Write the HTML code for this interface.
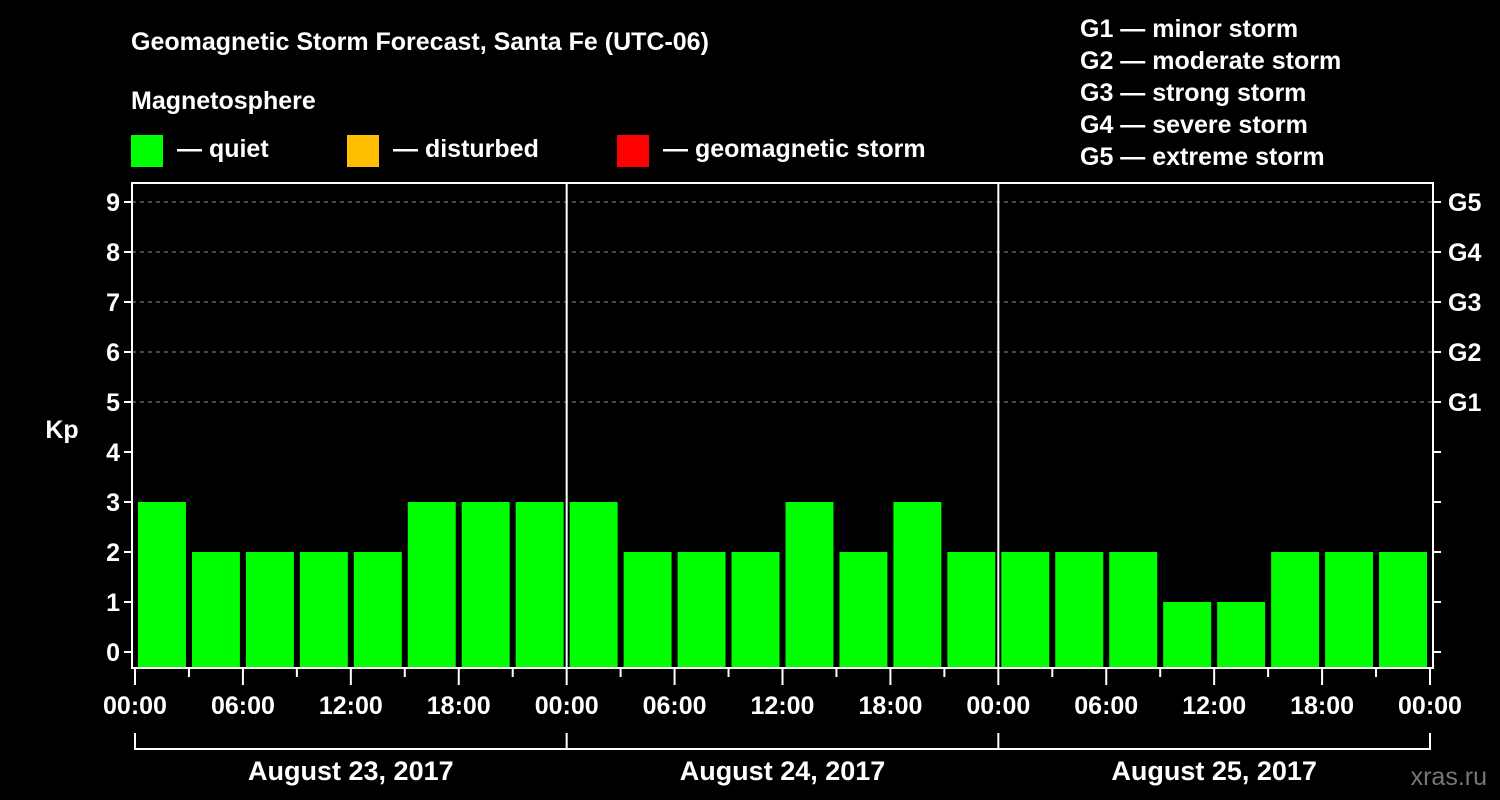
<!DOCTYPE html>
<html><head><meta charset="utf-8"><style>
html,body{margin:0;padding:0;background:#000;}
svg{display:block;font-family:"Liberation Sans",Arial,sans-serif;font-weight:bold;}
</style></head><body>
<svg width="1500" height="800" viewBox="0 0 1500 800">
<rect width="1500" height="800" fill="#000"/>
<text x="131" y="50" fill="#fff" font-size="25">Geomagnetic Storm Forecast, Santa Fe (UTC-06)</text>
<text x="131" y="109" fill="#fff" font-size="25">Magnetosphere</text>
<g><rect x="131" y="135" width="32" height="32" fill="#00ff00"/><text x="177" y="157" fill="#fff" font-size="25">— quiet</text></g>
<g><rect x="347" y="135" width="32" height="32" fill="#ffbf00"/><text x="393" y="157" fill="#fff" font-size="25">— disturbed</text></g>
<g><rect x="617" y="135" width="32" height="32" fill="#ff0000"/><text x="663" y="157" fill="#fff" font-size="25">— geomagnetic storm</text></g>
<g fill="#fff" font-size="25">
<text x="1080" y="37">G1 — minor storm</text>
<text x="1080" y="69">G2 — moderate storm</text>
<text x="1080" y="101">G3 — strong storm</text>
<text x="1080" y="133">G4 — severe storm</text>
<text x="1080" y="165">G5 — extreme storm</text>
</g>
<text x="62" y="438" fill="#fff" font-size="25" text-anchor="middle">Kp</text>
<text x="1487" y="785" fill="#777" font-size="25" text-anchor="end" font-weight="normal">xras.ru</text>
<g id="chart"></g>
</svg>
<script>
const kpValues = [3,2,2,2,2,3,3,3, 3,2,2,2,3,2,3,2, 2,2,2,1,1,2,2,2];
const dayLabels = ["August 23, 2017","August 24, 2017","August 25, 2017"];
const hourLabels = ["00:00","06:00","12:00","18:00"];
const gLabels = ["G1","G2","G3","G4","G5"];
const yTicks = [0,1,2,3,4,5,6,7,8,9];

const NS="http://www.w3.org/2000/svg";
const g=document.getElementById('chart');
const X0=135, X1=1430, HOURS=72, PLOT_L=132, PLOT_R=1433, PLOT_T=183, PLOT_B=668;
function x(h){return X0+h*(X1-X0)/HOURS;}
function y(v){return 652-v*50;}
function mk(tag,attrs){const e=document.createElementNS(NS,tag);for(const k in attrs)e.setAttribute(k,attrs[k]);g.appendChild(e);return e;}
function colorFor(v){return v>=5?'#ff0000':(v>=4?'#ffbf00':'#00ff00');}

// gridlines for 5..9
for(let v=5;v<=9;v++){
  const l=mk('line',{x1:PLOT_L,x2:PLOT_R,y1:y(v),y2:y(v),stroke:'#888','stroke-dasharray':'4,4','stroke-width':1});
  
  
}
// bars
kpValues.forEach((v,i)=>{
  const r=mk('rect',{x:x(i*3)+3,width:x(3)-x(0)-6,y:y(v),height:PLOT_B-y(v),fill:colorFor(v)});
  
  
});
// day separators
for(let d=1;d<3;d++){
  const l=mk('line',{x1:x(d*24),x2:x(d*24),y1:PLOT_T,y2:PLOT_B,stroke:'#fff','stroke-width':2});
  
  
}
// frame
const fr=mk('rect',{x:PLOT_L,y:PLOT_T,width:PLOT_R-PLOT_L,height:PLOT_B-PLOT_T,fill:'none',stroke:'#fff','stroke-width':2});


// y ticks
yTicks.forEach(v=>{
  const t=mk('line',{x1:PLOT_L-8,x2:PLOT_L,y1:y(v),y2:y(v),stroke:'#fff','stroke-width':2});
  
  
  const t2=mk('line',{x1:PLOT_R,x2:PLOT_R+8,y1:y(v),y2:y(v),stroke:'#fff','stroke-width':2});
  
  
  const tx=mk('text',{x:PLOT_L-12,y:y(v)+9,fill:'#fff','font-size':25,'text-anchor':'end'});
  tx.textContent=v;
  
  
});
gLabels.forEach((lab,i)=>{
  const tx=mk('text',{x:PLOT_R+15,y:y(5+i)+9,fill:'#fff','font-size':25});
  tx.textContent=lab;
  
  
});
// x ticks
for(let h=0;h<=HOURS;h+=3){
  const t=mk('line',{x1:x(h),x2:x(h),y1:PLOT_B,y2:h%6===0?685:677,stroke:'#fff','stroke-width':2});
  
  
}
for(let h=0;h<=HOURS;h+=6){
  const tx=mk('text',{x:x(h),y:714,fill:'#fff','font-size':25,'text-anchor':'middle'});
  tx.textContent=hourLabels[(h/6)%4];
  
  
}
// day brackets
dayLabels.forEach((lab,d)=>{
  const p=mk('path',{d:`M${x(d*24)},733 V749 H${x(d*24+24)}`+(d===2?` V733`:''),fill:'none',stroke:'#fff','stroke-width':2});
  
  
  const tx=mk('text',{x:x(d*24+12),y:780,fill:'#fff','font-size':27,'text-anchor':'middle'});
  tx.textContent=lab;
  
  
});
</script>
</body></html>
